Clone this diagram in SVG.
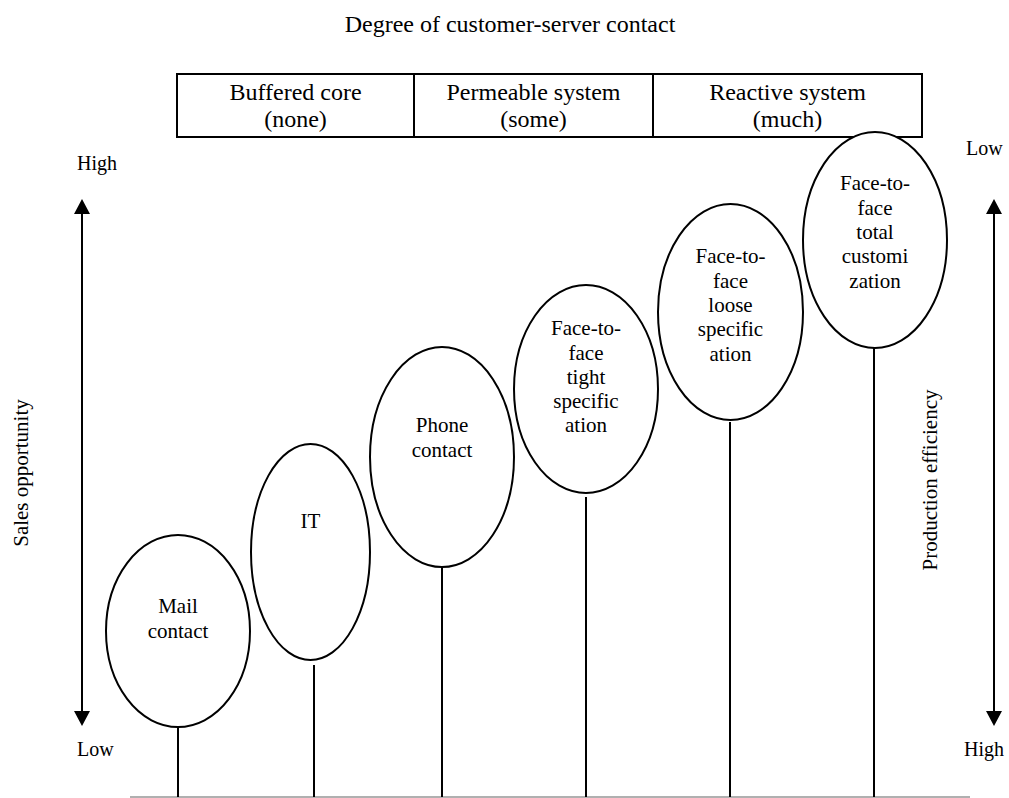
<svg xmlns="http://www.w3.org/2000/svg" width="1009" height="798" viewBox="0 0 1009 798">
<style>
  text { font-family: "Liberation Serif", "Times New Roman", serif; fill: #000; }
  .title { font-size: 24px; text-anchor: middle; }
  .cell { font-size: 24px; text-anchor: middle; }
  .lbl { font-size: 21px; text-anchor: middle; }
  .side { font-size: 20px; }
  .node { fill: #fff; stroke: #000; stroke-width: 2; }
  .stem { stroke: #000; stroke-width: 2; fill: none; }
  .axis { stroke: #000; stroke-width: 2; fill: none; }
  .head { fill: #000; stroke: none; }
</style>
<rect width="1009" height="798" fill="#fff"/>

<text class="title" x="510" y="32">Degree of customer-server contact</text>

<g id="table">
  <rect x="177" y="74" width="745" height="63" fill="none" stroke="#000" stroke-width="2"/>
  <line x1="414" y1="74" x2="414" y2="137" stroke="#000" stroke-width="2"/>
  <line x1="653" y1="74" x2="653" y2="137" stroke="#000" stroke-width="2"/>
  <text class="cell" x="295.5" y="100">Buffered core</text>
  <text class="cell" x="295.5" y="127">(none)</text>
  <text class="cell" x="533.5" y="100">Permeable system</text>
  <text class="cell" x="533.5" y="127">(some)</text>
  <text class="cell" x="787.5" y="100">Reactive system</text>
  <text class="cell" x="787.5" y="127">(much)</text>
</g>

<g id="left-axis">
  <text class="side" x="77" y="170">High</text>
  <text class="side" x="77" y="756">Low</text>
  <line class="axis" x1="82" y1="212" x2="82" y2="713"/>
  <polygon class="head" points="82,199 74,214 90,214"/>
  <polygon class="head" points="82,726 74,711 90,711"/>
  <text class="lbl" transform="translate(28,473) rotate(-90)">Sales opportunity</text>
</g>

<g id="right-axis">
  <text class="side" x="966" y="155">Low</text>
  <text class="side" x="964" y="756">High</text>
  <line class="axis" x1="994" y1="212" x2="994" y2="713"/>
  <polygon class="head" points="994,199 986,214 1002,214"/>
  <polygon class="head" points="994,726 986,711 1002,711"/>
  <text class="lbl" transform="translate(937,480) rotate(-90)">Production efficiency</text>
</g>

<g id="connectors">
  <line x1="130" y1="797" x2="970" y2="797" stroke="#b0b0b0" stroke-width="2"/>
  <line class="stem" x1="178" y1="727" x2="178" y2="797"/>
  <line class="stem" x1="314" y1="665" x2="314" y2="797"/>
  <line class="stem" x1="442" y1="568" x2="442" y2="797"/>
  <line class="stem" x1="586" y1="497" x2="586" y2="797"/>
  <line class="stem" x1="730" y1="422" x2="730" y2="797"/>
  <line class="stem" x1="874" y1="348" x2="874" y2="797"/>
</g>

<g id="node-mail">
  <ellipse class="node" cx="178" cy="631" rx="72" ry="96"/>
  <text class="lbl" x="178" y="613">Mail</text>
  <text class="lbl" x="178" y="638">contact</text>
</g>

<g id="node-it">
  <ellipse class="node" cx="310.5" cy="552" rx="59.5" ry="108"/>
  <text class="lbl" x="310.5" y="528">IT</text>
</g>

<g id="node-phone">
  <ellipse class="node" cx="442" cy="457" rx="72" ry="110"/>
  <text class="lbl" x="442" y="432">Phone</text>
  <text class="lbl" x="442" y="457">contact</text>
</g>

<g id="node-tight">
  <ellipse class="node" cx="586" cy="389" rx="72" ry="104"/>
  <text class="lbl" x="586" y="335">Face-to-</text>
  <text class="lbl" x="586" y="360">face</text>
  <text class="lbl" x="586" y="384">tight</text>
  <text class="lbl" x="586" y="408">specific</text>
  <text class="lbl" x="586" y="432">ation</text>
</g>

<g id="node-loose">
  <ellipse class="node" cx="730.5" cy="312" rx="72.5" ry="108"/>
  <text class="lbl" x="730.5" y="263">Face-to-</text>
  <text class="lbl" x="730.5" y="288">face</text>
  <text class="lbl" x="730.5" y="312">loose</text>
  <text class="lbl" x="730.5" y="336">specific</text>
  <text class="lbl" x="730.5" y="361">ation</text>
</g>

<g id="node-total">
  <ellipse class="node" cx="875" cy="240" rx="72" ry="108"/>
  <text class="lbl" x="875" y="190">Face-to-</text>
  <text class="lbl" x="875" y="215">face</text>
  <text class="lbl" x="875" y="239">total</text>
  <text class="lbl" x="875" y="263">customi</text>
  <text class="lbl" x="875" y="288">zation</text>
</g>
</svg>
